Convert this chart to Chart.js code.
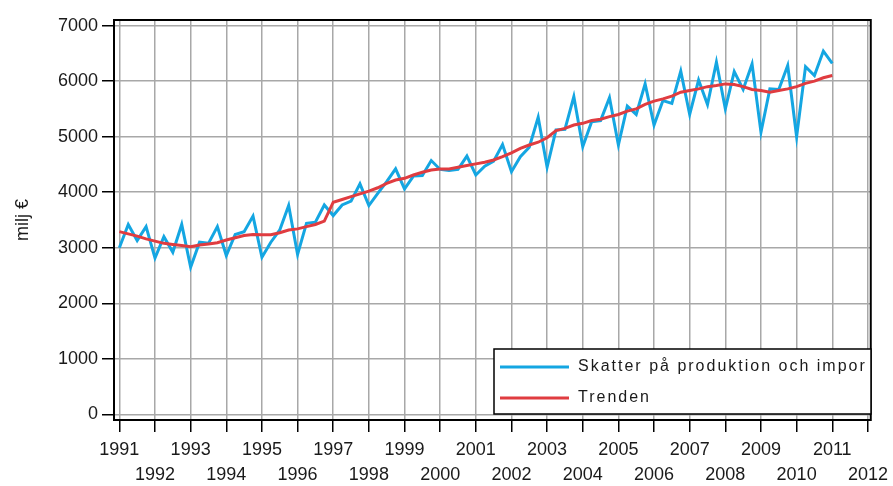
<!DOCTYPE html>
<html>
<head>
<meta charset="utf-8">
<script src="https://cdn.jsdelivr.net/npm/chart.js@4/dist/chart.umd.min.js"></script>
<style>
  html, body { margin: 0; padding: 0; background: #fff; }
  #wrap { width: 893px; height: 486px; }
</style>
</head>
<body>
<div id="wrap"><canvas id="c" width="893" height="486"></canvas></div>
<script>
"use strict";

// --- data --------------------------------------------------------------------
const years = [1991, 1992, 1993, 1994, 1995, 1996, 1997, 1998, 1999, 2000, 2001,
  2002, 2003, 2004, 2005, 2006, 2007, 2008, 2009, 2010, 2011];
const tickYears = [1991, 1992, 1993, 1994, 1995, 1996, 1997, 1998, 1999, 2000, 2001,
  2002, 2003, 2004, 2005, 2006, 2007, 2008, 2009, 2010, 2011, 2012];
const yTicks = [0, 1000, 2000, 3000, 4000, 5000, 6000, 7000];

// kvartal, 1991K1 .. 2011K1
const skatter = [
  3000, 3420, 3130, 3380,
  2815, 3200, 2920, 3420,
  2650, 3100, 3080, 3380,
  2860, 3240, 3290, 3570,
  2830, 3100, 3320, 3760,
  2880, 3440, 3460, 3770,
  3580, 3770, 3840, 4150,
  3760, 3980, 4190, 4420,
  4060, 4290, 4300, 4570,
  4410, 4390, 4410, 4650,
  4310, 4470, 4560, 4860,
  4370, 4640, 4810, 5350,
  4450, 5120, 5130, 5720,
  4820, 5270, 5290, 5700,
  4850, 5550, 5400, 5950,
  5210, 5650, 5600, 6180,
  5400, 6020, 5580, 6340,
  5500, 6170, 5850, 6310,
  5080, 5860, 5850, 6280,
  5000, 6260, 6100, 6540,
  6320
];
const trend = [
  3290, 3250, 3210, 3160,
  3120, 3080, 3060, 3040,
  3020, 3050, 3070, 3090,
  3140, 3180, 3220, 3240,
  3235, 3235, 3270, 3320,
  3340, 3380, 3420, 3480,
  3820, 3870, 3920, 3970,
  4020, 4080, 4160, 4220,
  4250, 4310, 4360, 4400,
  4420, 4420, 4450, 4480,
  4510, 4540, 4580, 4640,
  4710, 4790, 4850, 4900,
  4980, 5110, 5150, 5210,
  5240, 5290, 5315, 5360,
  5400, 5460, 5500, 5580,
  5640, 5680, 5730, 5800,
  5830, 5860, 5900, 5920,
  5950, 5940, 5900, 5850,
  5830, 5800, 5830, 5860,
  5900, 5960, 6000, 6060,
  6100
];

// kvartalsetiketter -> x-position (år + (kvartal-1)/4)
const quarters = [];
years.forEach((y) => [1, 2, 3, 4].forEach((q) => quarters.push(y + "K" + q)));
quarters.length = skatter.length;
function qx(lbl) {
  const [y, q] = lbl.split("K");
  return +y + (q - 1) / 4;
}
const pts = (vals) => vals.map((v, i) => ({ x: qx(quarters[i]), y: v }));

// --- plugins -----------------------------------------------------------------
const BLUE = "#14a6e2", RED = "#e03c40", GRID = "#a8a8a8", TXT = "#1a1a1a";
const FONT = "'Liberation Sans', Arial, sans-serif";

const frame = {
  id: "frame",
  afterDraw(chart) {
    const a = chart.chartArea, ctx = chart.ctx;
    ctx.save();
    ctx.strokeStyle = "#000"; ctx.lineWidth = 2;
    ctx.strokeRect(a.left, a.top, a.right - a.left, a.bottom - a.top);
    ctx.restore();
  }
};

const legendBox = {
  id: "legendBox",
  afterDraw(chart) {
    const ctx = chart.ctx;
    const x = 494, y = 349, w = 377, h = 65;
    ctx.save();
    ctx.fillStyle = "#fff"; ctx.fillRect(x, y, w, h);
    ctx.strokeStyle = "#000"; ctx.lineWidth = 1.5; ctx.strokeRect(x, y, w, h);
    ctx.beginPath(); ctx.rect(x, y, w - 4, h); ctx.clip();
    chart.data.datasets.forEach((ds, i) => {
      const cy = y + 18 + i * 31;
      ctx.strokeStyle = ds.borderColor; ctx.lineWidth = 3;
      ctx.beginPath(); ctx.moveTo(x + 6, cy); ctx.lineTo(x + 75, cy); ctx.stroke();
      ctx.fillStyle = TXT; ctx.font = "16px " + FONT;
      ctx.letterSpacing = "2px";
      ctx.textBaseline = "middle";
      ctx.fillText(ds.label, x + 84, cy);
    });
    ctx.restore();
  }
};

// --- chart -------------------------------------------------------------------
new Chart(document.getElementById("c"), {
  type: "line",
  data: {
    datasets: [
      { label: "Skatter på produktion och import", data: pts(skatter), borderColor: BLUE,
        borderWidth: 3, pointRadius: 0, order: 1 },
      { label: "Trenden", data: pts(trend), borderColor: RED,
        borderWidth: 3, pointRadius: 0, order: 0 }
    ]
  },
  options: {
    responsive: false, animation: false,
    layout: { padding: { top: 20, right: 18, left: 0, bottom: 0 } },
    plugins: { legend: { display: false }, tooltip: { enabled: false } },
    scales: {
      x: {
        type: "linear", min: 1990.85, max: 2012.08,
        afterBuildTicks: (s) => { s.ticks = tickYears.map((v) => ({ value: v })); },
        afterFit: (s) => { s.height = 66; },
        ticks: {
          autoSkip: false, maxRotation: 0, color: TXT, padding: 5,
          font: { family: FONT, size: 18, lineHeight: 1.4 },
          callback: (v) => (v % 2 === 1 ? [String(v), ""] : ["", String(v)])
        },
        grid: { color: GRID, lineWidth: 1.5, tickColor: "#000", tickLength: 12, tickWidth: 1.5 },
        border: { display: false }
      },
      y: {
        min: -100, max: 7100,
        afterBuildTicks: (s) => { s.ticks = yTicks.map((v) => ({ value: v })); },
        afterFit: (s) => { s.width = 114; },
        ticks: { color: TXT, padding: 4, font: { family: FONT, size: 18 },
          callback: (v) => String(v) },
        grid: { color: GRID, lineWidth: 1.5, tickColor: "#000", tickLength: 12, tickWidth: 1.5 },
        border: { display: false },
        title: { display: true, text: "milj €", color: TXT, padding: { top: 12, bottom: 0 },
          font: { family: FONT, size: 18 } }
      }
    }
  },
  plugins: [frame, legendBox]
});
</script>
</body>
</html>
